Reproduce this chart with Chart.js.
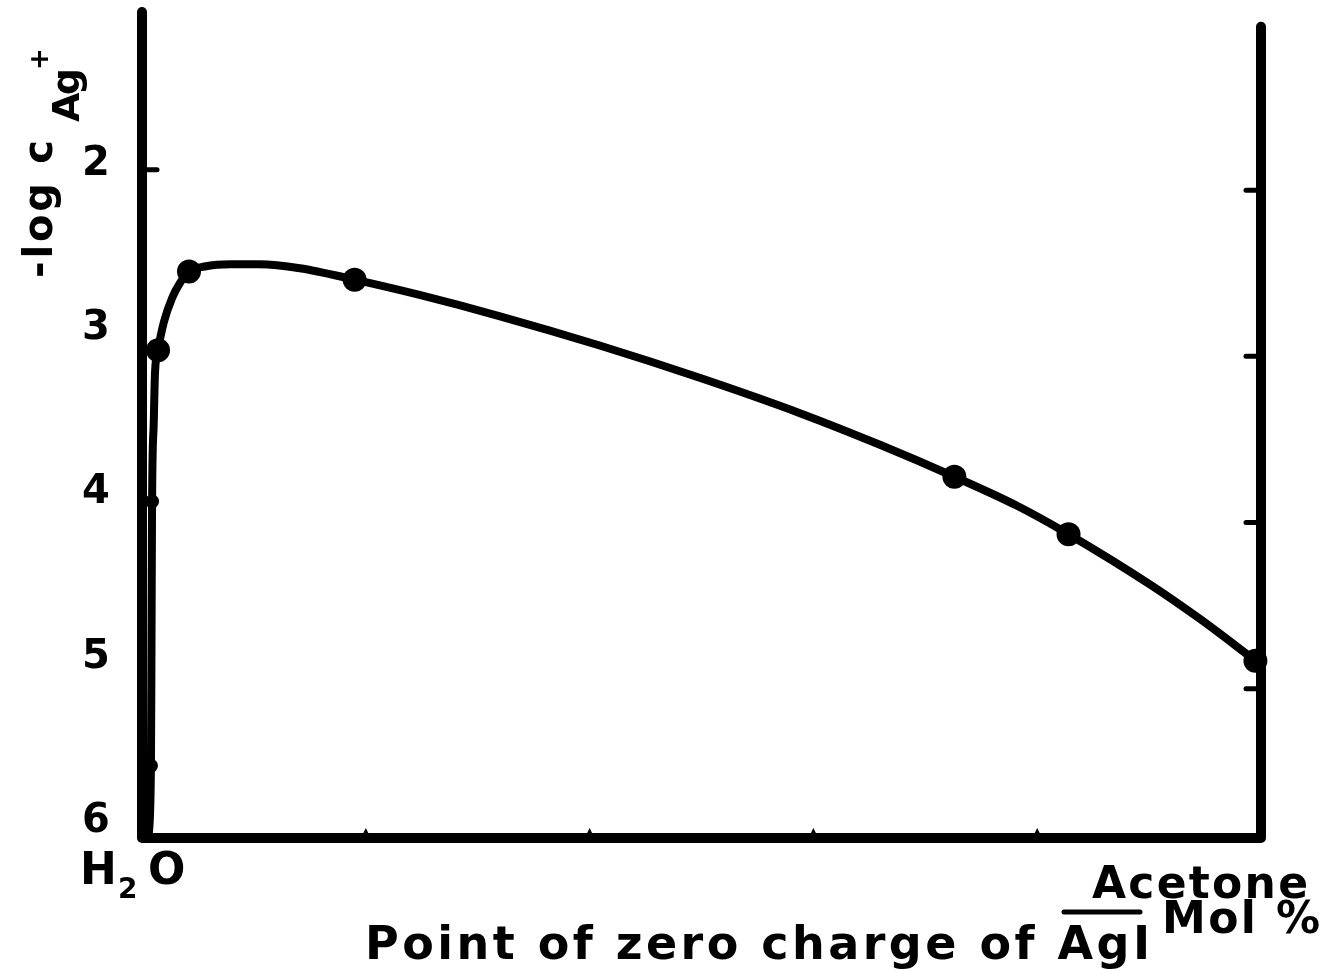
<!DOCTYPE html>
<html>
<head>
<meta charset="utf-8">
<script src="https://cdn.jsdelivr.net/npm/chart.js@4/dist/chart.umd.min.js"></script>
<style>
  html, body { margin: 0; padding: 0; background: #fff; }
  #wrap { width: 1324px; height: 971px; position: relative; }
</style>
</head>
<body>
<div id="wrap"><canvas id="pzcChart"></canvas></div>
<script>
// ─── Data ───────────────────────────────────────────────────────────────────

// measured points: acetone (mol %) vs -log c Ag+
const pointX = [0.8, 0.9, 1.43, 4.2, 19.0, 72.6, 82.8, 99.5];
const pointY = [5.63, 4.02, 3.10, 2.62, 2.67, 3.87, 4.22, 4.99];

// hand-drawn curve through them
const curveX = [0.6, 0.8, 0.85, 0.9, 1.05, 1.16, 1.43, 1.95, 2.7, 3.4, 4.2, 5.6, 7.9, 10.5, 14.1, 19.0,
                24.8, 32.0, 40.9, 49.9, 58.8, 66.0, 72.6, 78.2, 82.8, 90.1, 94.5, 99.5];
const curveY = [6.06, 5.63, 4.87, 4.02, 3.54, 3.24, 3.10, 2.93, 2.78, 2.69, 2.62, 2.59, 2.576, 2.576, 2.60, 2.67,
                2.763, 2.893, 3.071, 3.269, 3.483, 3.677, 3.87, 4.047, 4.22, 4.527, 4.734, 4.99];

const yTickLabels = ['2', '3', '4', '5', '6'];
const yTickValues = [2, 3, 4, 5, 6];
const leftTicks   = [2];
const xTicks      = [20, 40, 60, 80];
const rightTicks  = [2, 3, 4, 5];   // unlabelled scale on the right edge

const INK = '#000000';
const FONT = '"DejaVu Sans", Arial, sans-serif';

// ─── Helpers ─────────────────────────────────────────────────────────────────

// text stretched to a given width with letter spacing (the print is wide-set)
function fitText(ctx, text, x, y, width, size) {
  ctx.font = `bold ${size}px ${FONT}`;
  ctx.letterSpacing = '0px';
  const w = ctx.measureText(text).width;
  const ls = text.length > 1 ? (width - w) / (text.length - 1) : 0;
  ctx.letterSpacing = ls + 'px';
  ctx.fillText(text, x, y);
  ctx.letterSpacing = '0px';
}

// ─── Frame, ticks & labels ───────────────────────────────────────────────────

const framePlugin = {
  id: 'frame',
  afterDatasetsDraw(chart) {
    const { ctx, chartArea: a, scales } = chart;
    const { x, y, y2 } = scales;
    ctx.save();
    ctx.strokeStyle = INK;
    ctx.fillStyle = INK;
    ctx.lineCap = 'round';
    ctx.lineJoin = 'round';

    // axes: left, bottom, right (right one starts a bit lower)
    ctx.lineWidth = 10;
    ctx.beginPath();
    ctx.moveTo(a.left, a.top);
    ctx.lineTo(a.left, a.bottom);
    ctx.lineTo(a.right, a.bottom);
    ctx.lineTo(a.right, y.getPixelForValue(1.13));
    ctx.stroke();

    // inward ticks
    ctx.lineWidth = 5;
    leftTicks.forEach(v => {
      const py = y.getPixelForValue(v);
      ctx.beginPath();
      ctx.moveTo(a.left, py);
      ctx.lineTo(a.left + 15, py);
      ctx.stroke();
    });
    rightTicks.forEach(v => {
      const py = y2.getPixelForValue(v);
      ctx.beginPath();
      ctx.moveTo(a.right, py);
      ctx.lineTo(a.right - 15, py);
      ctx.stroke();
    });
    xTicks.forEach(v => {
      const px = x.getPixelForValue(v);
      ctx.beginPath();
      ctx.moveTo(px - 5, a.bottom);
      ctx.lineTo(px, a.bottom - 10);
      ctx.lineTo(px + 5, a.bottom);
      ctx.closePath();
      ctx.fill();
    });

    // y tick labels
    ctx.font = `bold 40px ${FONT}`;
    ctx.textAlign = 'center';
    ctx.textBaseline = 'middle';
    yTickValues.forEach((v, i) => {
      ctx.fillText(yTickLabels[i], 96, y.getPixelForValue(v) - 5);
    });

    // H2O under the origin
    ctx.textAlign = 'left';
    ctx.textBaseline = 'alphabetic';
    ctx.font = `bold 44px ${FONT}`;
    ctx.fillText('H', 80, 884);
    ctx.font = `bold 28px ${FONT}`;
    ctx.fillText('2', 118, 898);
    ctx.font = `bold 44px ${FONT}`;
    ctx.fillText('O', 148, 884);

    // acetone end of the axis
    fitText(ctx, 'Acetone', 1092, 898, 216, 44);
    fitText(ctx, 'Mol %', 1162, 933, 158, 44);
    ctx.lineWidth = 5;
    ctx.beginPath();
    ctx.moveTo(1064, 912);
    ctx.lineTo(1140, 912);
    ctx.stroke();

    // x title
    fitText(ctx, 'Point of zero charge of AgI', 365, 959, 785, 46);

    // y title, rotated: -log c Ag+
    ctx.save();
    ctx.translate(52, 278);
    ctx.rotate(-Math.PI / 2);
    fitText(ctx, '-log c', 0, 0, 138, 40);
    fitText(ctx, 'Ag', 156, 27, 54, 38);
    ctx.font = `bold 26px ${FONT}`;
    ctx.fillText('+', 208, -4);
    ctx.restore();

    ctx.restore();
  }
};

// ─── Chart ───────────────────────────────────────────────────────────────────

new Chart(document.getElementById('pzcChart'), {
  type: 'line',
  data: {
    datasets: [
      {
        label: 'curve',
        data: curveX.map((v, i) => ({ x: v, y: curveY[i] })),
        borderColor: INK,
        borderWidth: 8,
        pointRadius: 0,
        fill: false,
        cubicInterpolationMode: 'monotone',
        clip: false,
        order: 2,
      },
      {
        label: 'measured',
        data: pointX.map((v, i) => ({ x: v, y: pointY[i] })),
        showLine: false,
        pointRadius: c => (c.dataIndex < 2 ? 7 : 12),
        pointBackgroundColor: INK,
        pointBorderColor: INK,
        pointBorderWidth: 0,
        clip: false,
        order: 1,
      },
    ],
  },
  options: {
    responsive: true,
    maintainAspectRatio: false,
    animation: false,
    layout: { padding: { left: 142, right: 63, top: 8, bottom: 133 } },
    scales: {
      x:  { type: 'linear', min: 0, max: 100, display: false },
      y:  { type: 'linear', min: 1.04, max: 6.07, reverse: true, display: false },
      y2: { type: 'linear', min: 0.928, max: 5.898, reverse: true, display: false },
    },
    plugins: {
      legend: { display: false },
      tooltip: { enabled: false },
    },
  },
  plugins: [framePlugin],
});
</script>
</body>
</html>
